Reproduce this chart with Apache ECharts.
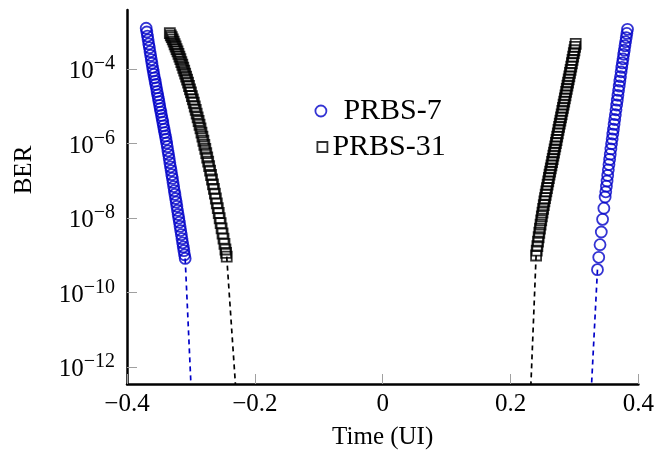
<!DOCTYPE html>
<html>
<head>
<meta charset="utf-8">
<script src="https://cdn.jsdelivr.net/npm/echarts@6/dist/echarts.min.js"></script>
<style>html,body{margin:0;padding:0;background:#fff}#c{width:657px;height:459px}</style>
</head>
<body>
<div id="c"></div>
<script>
// ---- Data (time in UI, log10 of BER) ----
const xTicks = [-0.4, -0.2, 0, 0.2, 0.4];
const yTickExps = [-12, -10, -8, -6, -4];
const seriesNames = ['PRBS-7', 'PRBS-31'];

const prbs7LeftX = [-0.370,-0.369,-0.368,-0.367,-0.366,-0.365,-0.364,-0.363,-0.362,-0.361,-0.360,-0.359,-0.358,-0.357,-0.356,-0.355,-0.354,-0.353,-0.352,-0.351,-0.350,-0.349,-0.348,-0.347,-0.346,-0.345,-0.344,-0.343,-0.342,-0.341,-0.340,-0.339,-0.338,-0.337,-0.336,-0.335,-0.334,-0.333,-0.332,-0.331,-0.330,-0.329,-0.328,-0.327,-0.326,-0.325,-0.324,-0.323,-0.322,-0.321,-0.320,-0.319,-0.318,-0.317,-0.316,-0.315,-0.314,-0.313,-0.312,-0.311,-0.310,-0.309];
const prbs7LeftLogBer = [-2.90,-3.00,-3.11,-3.21,-3.32,-3.42,-3.53,-3.63,-3.74,-3.84,-3.95,-4.05,-4.14,-4.23,-4.32,-4.41,-4.50,-4.60,-4.69,-4.78,-4.87,-4.97,-5.06,-5.15,-5.24,-5.33,-5.42,-5.52,-5.61,-5.70,-5.79,-5.88,-5.98,-6.08,-6.19,-6.29,-6.40,-6.51,-6.62,-6.72,-6.83,-6.93,-7.04,-7.15,-7.26,-7.36,-7.47,-7.57,-7.68,-7.79,-7.90,-8.00,-8.11,-8.22,-8.33,-8.44,-8.55,-8.66,-8.77,-8.87,-8.98,-9.08];

const prbs7RightX = [0.336,0.338,0.340,0.342,0.344,0.346,0.348,0.349,0.350,0.351,0.352,0.353,0.354,0.355,0.356,0.357,0.358,0.359,0.360,0.361,0.362,0.363,0.364,0.365,0.366,0.367,0.368,0.369,0.370,0.371,0.372,0.373,0.374,0.375,0.376,0.377,0.378,0.379,0.380,0.381,0.382,0.383];
const prbs7RightLogBer = [-9.38,-9.05,-8.71,-8.37,-8.03,-7.73,-7.43,-7.29,-7.14,-7.00,-6.85,-6.70,-6.56,-6.42,-6.28,-6.14,-6.00,-5.87,-5.74,-5.61,-5.48,-5.35,-5.22,-5.09,-4.96,-4.83,-4.70,-4.57,-4.45,-4.32,-4.20,-4.07,-3.95,-3.83,-3.72,-3.60,-3.49,-3.37,-3.26,-3.15,-3.04,-2.93];

const prbs31LeftX = [-0.333,-0.3315,-0.330,-0.3285,-0.327,-0.3255,-0.324,-0.3225,-0.321,-0.3195,-0.318,-0.3165,-0.315,-0.3135,-0.312,-0.3105,-0.309,-0.3075,-0.306,-0.3045,-0.303,-0.3015,-0.300,-0.2985,-0.297,-0.2955,-0.294,-0.2925,-0.291,-0.2895,-0.288,-0.2865,-0.285,-0.2835,-0.282,-0.2805,-0.279,-0.2775,-0.276,-0.2745,-0.273,-0.2715,-0.270,-0.2685,-0.267,-0.2655,-0.264,-0.2625,-0.261,-0.2595,-0.258,-0.2565,-0.255,-0.2535,-0.252,-0.2505,-0.249,-0.2475,-0.246,-0.245,-0.244];
const prbs31LeftLogBer = [-3.03,-3.09,-3.14,-3.20,-3.26,-3.33,-3.39,-3.46,-3.52,-3.59,-3.66,-3.73,-3.81,-3.88,-3.96,-4.04,-4.12,-4.20,-4.28,-4.36,-4.45,-4.54,-4.62,-4.72,-4.81,-4.90,-5.00,-5.09,-5.19,-5.29,-5.39,-5.49,-5.59,-5.70,-5.81,-5.92,-6.03,-6.14,-6.25,-6.37,-6.48,-6.60,-6.72,-6.84,-6.96,-7.09,-7.21,-7.34,-7.47,-7.60,-7.73,-7.86,-8.00,-8.13,-8.27,-8.41,-8.55,-8.69,-8.84,-8.93,-9.03];

const prbs31RightX = [0.240,0.241,0.242,0.243,0.244,0.245,0.246,0.247,0.248,0.249,0.250,0.251,0.252,0.253,0.254,0.255,0.256,0.257,0.258,0.259,0.260,0.261,0.262,0.263,0.264,0.265,0.266,0.267,0.268,0.269,0.270,0.271,0.272,0.273,0.274,0.275,0.276,0.277,0.278,0.279,0.280,0.281,0.282,0.283,0.284,0.285,0.286,0.287,0.288,0.289,0.290,0.291,0.292,0.293,0.294,0.295,0.296,0.297,0.298,0.299,0.300,0.301,0.302];
const prbs31RightLogBer = [-9.00,-8.87,-8.75,-8.63,-8.51,-8.39,-8.28,-8.17,-8.06,-7.95,-7.85,-7.75,-7.65,-7.55,-7.46,-7.37,-7.28,-7.19,-7.10,-7.01,-6.92,-6.83,-6.75,-6.66,-6.58,-6.49,-6.41,-6.32,-6.24,-6.15,-6.07,-5.98,-5.90,-5.81,-5.72,-5.63,-5.55,-5.46,-5.38,-5.29,-5.21,-5.12,-5.04,-4.95,-4.87,-4.78,-4.70,-4.61,-4.53,-4.44,-4.36,-4.27,-4.19,-4.10,-4.02,-3.93,-3.84,-3.75,-3.66,-3.57,-3.49,-3.40,-3.32];

// dashed extrapolations down to the bottom of the plot
const prbs7LeftTailX = [-0.309, -0.300];
const prbs7LeftTailLogBer = [-9.08, -12.45];
const prbs7RightTailX = [0.336, 0.3268];
const prbs7RightTailLogBer = [-9.38, -12.45];
const prbs31LeftTailX = [-0.244, -0.2304];
const prbs31LeftTailLogBer = [-9.03, -12.45];
const prbs31RightTailX = [0.240, 0.2319];
const prbs31RightTailLogBer = [-9.00, -12.45];

// ---- Chart ----
const BLUE = '#0000c8';
const FONT = 'Liberation Serif';
const zip = (xs, ys) => xs.map((x, i) => [x, ys[i]]);

function markSeries(name, xs, ys, symbol, size, color) {
  return {
    type: 'scatter', name, data: zip(xs, ys), symbol, symbolSize: size,
    itemStyle: { color: 'rgba(0,0,0,0)', borderColor: color, borderWidth: 1.8 },
    emphasis: { disabled: true }, z: 3
  };
}
function tailSeries(xs, ys, color) {
  return {
    type: 'line', data: zip(xs, ys), symbol: 'none', silent: true,
    lineStyle: { color, width: 1.7, type: [5, 4] }, z: 2
  };
}

const chart = echarts.init(document.getElementById('c'), null, { renderer: 'canvas' });
chart.setOption({
  animation: false,
  backgroundColor: '#fff',
  grid: { left: 127, right: 16, top: 10, bottom: 75, containLabel: false },
  legend: [
    {
      data: [{ name: seriesNames[0], icon: 'circle', itemStyle: { color: 'rgba(0,0,0,0)', borderColor: BLUE, borderWidth: 1.8 } }],
      left: 314.5, top: 96, padding: 0, itemWidth: 11, itemHeight: 11,
      textStyle: { fontFamily: FONT, fontSize: 30, color: '#000', padding: [0, 0, 0, 12] }, selectedMode: false
    },
    {
      data: [{ name: seriesNames[1], icon: 'rect', itemStyle: { color: 'rgba(0,0,0,0)', borderColor: '#000', borderWidth: 1.8 } }],
      left: 316.5, top: 132, padding: 0, itemWidth: 10, itemHeight: 10,
      textStyle: { fontFamily: FONT, fontSize: 30, color: '#000' }, selectedMode: false
    }
  ],
  xAxis: {
    type: 'value', min: -0.4, max: 0.4, interval: 0.2,
    name: 'Time (UI)', nameLocation: 'middle', nameGap: 41,
    nameTextStyle: { fontFamily: FONT, fontSize: 25, color: '#000' },
    axisLine: { show: true, onZero: false, lineStyle: { color: '#000', width: 2.5 } },
    axisTick: { show: true, inside: true, length: 10, lineStyle: { color: '#a0a0a0', width: 1 } },
    axisLabel: {
      fontFamily: FONT, fontSize: 25, color: '#000', margin: 8,
      formatter: v => (v < 0 ? '\u2212' + Math.abs(v) : String(v))
    },
    splitLine: { show: false }
  },
  yAxis: {
    type: 'value', min: -12.45, max: -2.41,
    name: 'BER', nameLocation: 'middle', nameGap: 90,
    nameTextStyle: { fontFamily: FONT, fontSize: 25, color: '#000', padding: [0, 0, 0, 54] },
    axisLine: { show: true, onZero: false, lineStyle: { color: '#000', width: 2.5 } },
    axisTick: { show: true, inside: true, length: 10, customValues: yTickExps, lineStyle: { color: '#a0a0a0', width: 1 } },
    axisLabel: {
      customValues: yTickExps, margin: 12,
      formatter: v => '{b|10}{s|\u2212' + Math.abs(v) + '}',
      rich: {
        b: { fontFamily: FONT, fontSize: 25, color: '#000', padding: [5, 0, 0, 0] },
        s: { fontFamily: FONT, fontSize: 20, color: '#000', verticalAlign: 'top' }
      }
    },
    splitLine: { show: false }
  },
  series: [
    tailSeries(prbs7LeftTailX, prbs7LeftTailLogBer, BLUE),
    tailSeries(prbs7RightTailX, prbs7RightTailLogBer, BLUE),
    tailSeries(prbs31LeftTailX, prbs31LeftTailLogBer, '#000'),
    tailSeries(prbs31RightTailX, prbs31RightTailLogBer, '#000'),
    markSeries(seriesNames[0], prbs7LeftX, prbs7LeftLogBer, 'circle', 11, BLUE),
    markSeries(seriesNames[0], prbs7RightX, prbs7RightLogBer, 'circle', 11, BLUE),
    markSeries(seriesNames[1], prbs31LeftX, prbs31LeftLogBer, 'rect', 10, '#000'),
    markSeries(seriesNames[1], prbs31RightX, prbs31RightLogBer, 'rect', 10, '#000')
  ]
});
</script>
</body>
</html>
